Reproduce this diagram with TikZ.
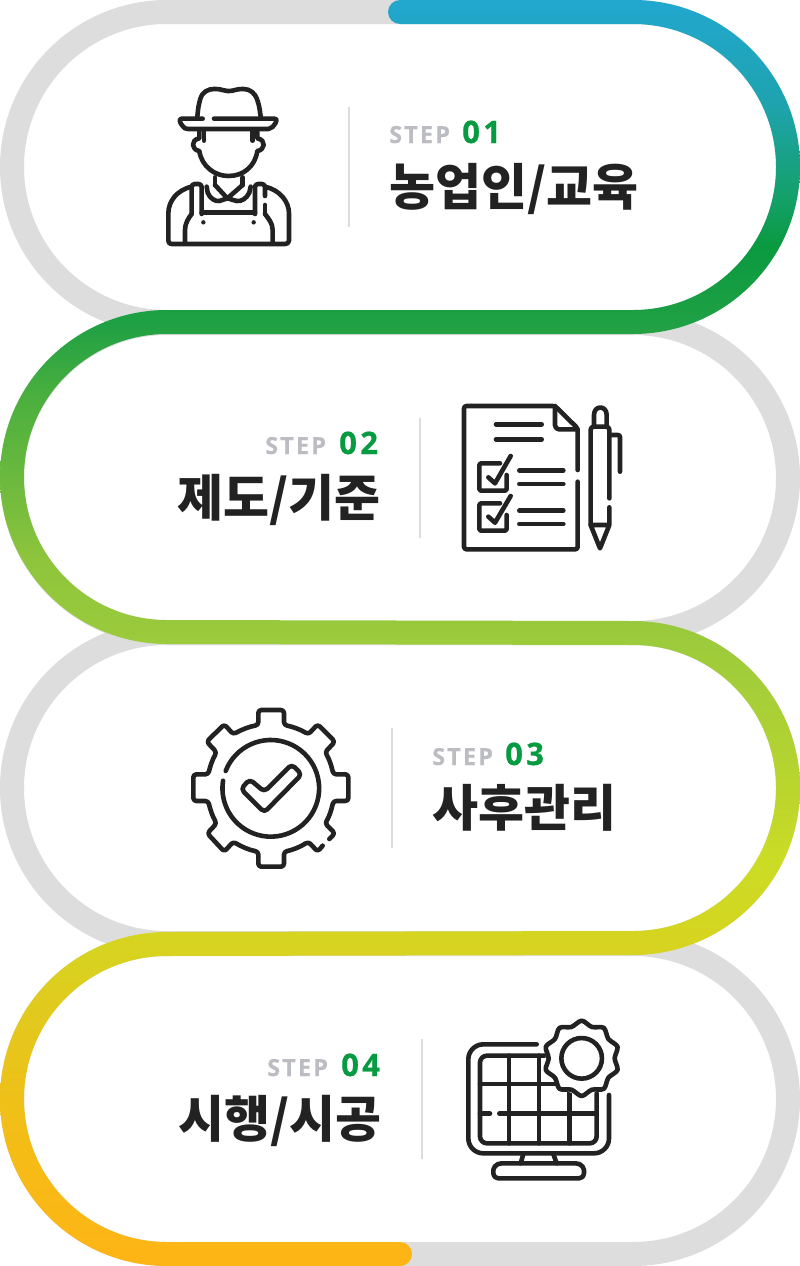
\documentclass[tikz,border=0pt]{standalone}
\usepackage{fontspec}
\newfontfamily\stepfont[LetterSpace=9,BoldFeatures={FakeBold=0.3}]{Open Sans}
\newfontfamily\numfont[LetterSpace=11,BoldFeatures={FakeBold=0.6}]{Open Sans}
\newfontfamily\krfont{Noto Sans CJK KR}
\definecolor{ink}{HTML}{222222}
\definecolor{ringgrey}{HTML}{DDDDDD}
\definecolor{rulegrey}{HTML}{DCDCDC}
\definecolor{stepgrey}{HTML}{BBBDC2}
\definecolor{stepgreen}{HTML}{069A41}
\definecolor{c00}{HTML}{22A7CF}
\definecolor{c01}{HTML}{1EA3B0}
\definecolor{c02}{HTML}{14A068}
\definecolor{c03}{HTML}{0A9A40}
\definecolor{c04}{HTML}{1FA044}
\definecolor{c05}{HTML}{4CB03E}
\definecolor{c06}{HTML}{6CB93E}
\definecolor{c07}{HTML}{8EC53C}
\definecolor{c08}{HTML}{9ACA3C}
\definecolor{c09}{HTML}{A7CF38}
\definecolor{c10}{HTML}{BDD62C}
\definecolor{c11}{HTML}{CBDC25}
\definecolor{c12}{HTML}{D6D420}
\definecolor{c13}{HTML}{E6C61C}
\definecolor{c14}{HTML}{F5BC16}
\definecolor{c15}{HTML}{FDB515}
\pgfdeclareverticalshading{stepgrad}{100bp}{
 color(0bp)=(c15); color(25.47bp)=(c15); color(29.58bp)=(c14); color(33.93bp)=(c13);
 color(37.76bp)=(c12); color(41.03bp)=(c11); color(43.4bp)=(c10); color(47.35bp)=(c09);
 color(50.04bp)=(c08); color(52.88bp)=(c07); color(56.04bp)=(c06); color(59.2bp)=(c05);
 color(62.28bp)=(c04); color(65.32bp)=(c03); color(67.1bp)=(c02); color(71.05bp)=(c01);
 color(75bp)=(c00); color(100bp)=(c00)}
\tikzset{
 ring/.style={draw=ringgrey,line width=24pt},
 divider/.style={draw=rulegrey,line width=1.4pt},
 icon/.style={draw=ink,line width=4.6pt,line cap=round,line join=round,fill=none},
 zoomed/.style={x=0.33333pt,y=-0.33333pt},
 steplabel/.style={anchor=base west,inner sep=0pt,text=stepgrey,font=\stepfont\bfseries\fontsize{23.5}{24}\selectfont},
 stepnum/.style={anchor=base west,inner sep=0pt,text=stepgreen,font=\numfont\bfseries\fontsize{31}{31}\selectfont},
 title/.style={anchor=base west,inner sep=0pt,text=ink,font=\krfont\bfseries\fontsize{50}{50}\selectfont},
}
\begin{document}
\begin{tikzpicture}[x=1pt,y=-1pt]
\fill[white] (0,0) rectangle (800,1266);
\useasboundingbox (0,0) rectangle (800,1266);
% grey rings
\foreach \c in {167,478,788,1099}{
 \draw[ring] (167,\c-155) -- (633,\c-155) arc[start angle=90,end angle=-90,radius=155pt]
   -- (167,\c+155) arc[start angle=270,end angle=90,radius=155pt] -- cycle;
}
% coloured band
\begin{scope}
\clip (400,0) -- (633,0) arc[start angle=90,end angle=-90,radius=167pt]
 -- (167,334) arc[start angle=90,end angle=270,radius=143pt]
 -- (633,621) arc[start angle=90,end angle=-90,radius=167pt]
 -- (167,956) arc[start angle=90,end angle=270,radius=143pt]
 -- (400,1242) arc[start angle=90,end angle=-90,radius=12pt]
 -- (167,1266) arc[start angle=270,end angle=90,radius=167pt]
 -- (633,931) arc[start angle=-90,end angle=90,radius=143pt]
 -- (167,644) arc[start angle=270,end angle=90,radius=167pt]
 -- (633,310) arc[start angle=-90,end angle=90,radius=143pt]
 -- (400,24) arc[start angle=270,end angle=90,radius=12pt] -- cycle;
\shade[shading=stepgrad] (0,0) rectangle (800,1266);
\end{scope}
% dividers
\draw[divider] (349,107) -- (349,227);
\draw[divider] (420,418) -- (420,538);
\draw[divider] (392,728) -- (392,848);
\draw[divider] (422,1039) -- (422,1159);
% texts
\node[steplabel] (s1) at (389,143) {STEP};
\node[stepnum] (n1) at (462,143) {01};
\node[title] (t1) at (389,205) {농업인/교육};
\node[steplabel] (s2) at (265,454) {STEP};
\node[stepnum] (n2) at (339,454) {02};
\node[title] (t2) at (177,516) {제도/기준};
\node[steplabel] (s3) at (432,765) {STEP};
\node[stepnum] (n3) at (505,765) {03};
\node[title] (t3) at (432,826) {사후관리};
\node[steplabel] (s4) at (267,1076) {STEP};
\node[stepnum] (n4) at (341,1076) {04};
\node[title] (t4) at (178,1137) {시행/시공};
% farmer
\begin{scope}[shift={(140pt,-70pt)},zoomed,icon]
\draw[icon,rounded corners=1pt] (172,140) .. controls (175,110) .. (180,90) .. controls (187,65) and (205,57) .. (225,57) .. controls (245,57) and (250,63) .. (265,63) .. controls (280,63) and (290,57) .. (308,57) .. controls (330,57) and (345,70) .. (352,90) .. controls (358,110) .. (362,140);
\draw[icon] (188,146) -- (125,146) .. controls (115,146) and (120,160) .. (128,168) .. controls (135,176) .. (145,177) -- (385,177) .. controls (395,176) and (402,168) .. (406,160) .. controls (410,152) and (412,146) .. (402,146) -- (222,146);
\draw[icon] (178,180) -- (178,205) .. controls (150,210) and (155,240) .. (178,243) .. controls (185,290) and (225,318) .. (265,318) .. controls (310,318) and (345,290) .. (352,243) .. controls (375,240) and (380,210) .. (352,205) -- (352,180);
\draw[icon] (192,182) -- (192,212);
\draw[icon] (338,182) -- (338,212);
\draw[icon] (225,322) -- (225,345);
\draw[icon] (308,322) -- (308,345);
\draw[icon] (200,350) -- (203,368) .. controls (210,385) and (225,395) .. (238,393) -- (262,385) -- (225,345);
\draw[icon] (332,350) -- (328,368) .. controls (320,385) and (305,395) .. (290,393) -- (262,385) -- (308,345);
\draw[icon,rounded corners=3pt] (155,432) -- (155,342) -- (185,342) -- (185,432);
\draw[icon,rounded corners=3pt] (345,432) -- (345,342) -- (375,342) -- (375,378);
\draw[icon] (375,405) -- (375,432);
\draw[icon] (155,350) .. controls (110,360) and (85,395) .. (85,430) -- (85,512) .. controls (85,518) and (88,522) .. (95,522) -- (435,522) .. controls (442,522) and (447,518) .. (447,512) -- (447,430) .. controls (447,395) and (420,360) .. (375,350);
\draw[icon] (185,428) -- (345,428);
\draw[icon] (155,432) .. controls (145,445) and (135,460) .. (135,480) -- (135,520);
\draw[icon] (375,432) .. controls (385,445) and (398,460) .. (398,480) -- (398,520);
\fill[ink] (190,457) circle[radius=2.2pt];
\fill[ink] (341,457) circle[radius=2.2pt];
\end{scope}
% checklist
\begin{scope}[shift={(450pt,-390pt)},zoomed]
\draw[icon,rounded corners=2.5pt] (383,240) -- (383,115) -- (315,48) -- (42,48) -- (42,478) -- (383,478) -- (383,275);
\draw[icon,rounded corners=4pt] (315,48) -- (315,118) -- (383,118);
\draw[icon] (138,103) -- (275,103);
\draw[icon] (138,148) -- (275,148);
\draw[icon] (208,241) -- (340,241);
\draw[icon] (208,282) -- (340,282);
\draw[icon] (208,362) -- (340,362);
\draw[icon] (208,402) -- (340,402);
\draw[icon,rounded corners=2pt] (150,220) -- (88,220) -- (88,302) -- (170,302) -- (170,255);
\draw[icon] (115,262) -- (135,280) -- (182,198);
\draw[icon,rounded corners=2pt] (150,340) -- (88,340) -- (88,422) -- (170,422) -- (170,375);
\draw[icon] (115,380) -- (135,398) -- (182,318);
\draw[icon,rounded corners=3pt] (478,325) -- (478,110) -- (422,110) -- (422,405);
\draw[icon] (478,352) -- (478,405) -- (422,405) -- (450,475) -- (478,405);
\draw[icon] (432,105) -- (432,75) .. controls (432,45) and (470,45) .. (470,75) -- (470,105);
\draw[icon,rounded corners=2pt] (482,135) -- (510,135) -- (510,245);
\end{scope}
% gear
\begin{scope}[shift={(180pt,-695pt)},zoomed]
\draw[icon,rounded corners=3pt] (448,432) -- (465,415) -- (435,385) .. controls (448,365) and (455,342) .. (460,318) -- (505,318) -- (505,238) -- (460,238) .. controls (455,215) and (448,192) .. (435,172) -- (465,140) -- (413,88) -- (385,118) .. controls (362,104) and (338,95) .. (312,90) -- (312,45) -- (235,45) -- (235,90) .. controls (208,95) and (184,104) .. (160,118) -- (133,88) -- (80,140) -- (110,172) .. controls (98,192) and (90,215) .. (85,238) -- (40,238) -- (40,318) -- (85,318) .. controls (90,342) and (98,365) .. (110,385) -- (82,415) -- (133,470) -- (160,440) .. controls (184,455) and (208,465) .. (235,470) -- (235,515) -- (312,515) -- (312,470) .. controls (338,465) and (362,455) .. (385,440) -- (413,470) -- (428,452);
\draw[icon] (137,228) arc[start angle=159,end angle=-189,radius=48.33pt];
\draw[icon,rounded corners=4pt] (209,253) -- (183,282) -- (253,352) -- (365,238) -- (335,208) -- (253,290) -- cycle;
\end{scope}
% solar
\begin{scope}[shift={(455pt,-1010pt)},zoomed]
\draw[icon,rounded corners=15pt] (245,103) -- (40,103) -- (40,430) -- (462,430) -- (462,255);
\draw[icon,rounded corners=7pt] (270,137) -- (75,137) -- (75,400) -- (425,400) -- (425,250);
\draw[icon] (162,137) -- (162,400);
\draw[icon] (252,137) -- (252,400);
\draw[icon] (343,240) -- (343,400);
\draw[icon] (75,222) -- (305,222);
\draw[icon] (75,311) -- (105,311);
\draw[icon] (133,311) -- (425,311);
\draw[icon] (205,432) -- (197,460);
\draw[icon] (295,432) -- (305,460);
\draw[icon] (140,460) -- (362,460) .. controls (380,460) and (390,475) .. (387,490) .. controls (385,500) and (380,505) .. (372,505) -- (130,505) .. controls (122,505) and (117,500) .. (115,490) .. controls (112,475) and (122,460) .. (140,460) -- cycle;
\fill[white] (380,145) circle[radius=36pt];
\draw[icon] (380,145) circle[radius=20.3pt];
\draw[icon] plot[smooth cycle,domain=0:342,samples=20] ({380+(106+7*cos(10*\x))*cos(90-\x)},{145-(106+7*cos(10*\x))*sin(90-\x)});
\end{scope}
\end{tikzpicture}
\end{document}
